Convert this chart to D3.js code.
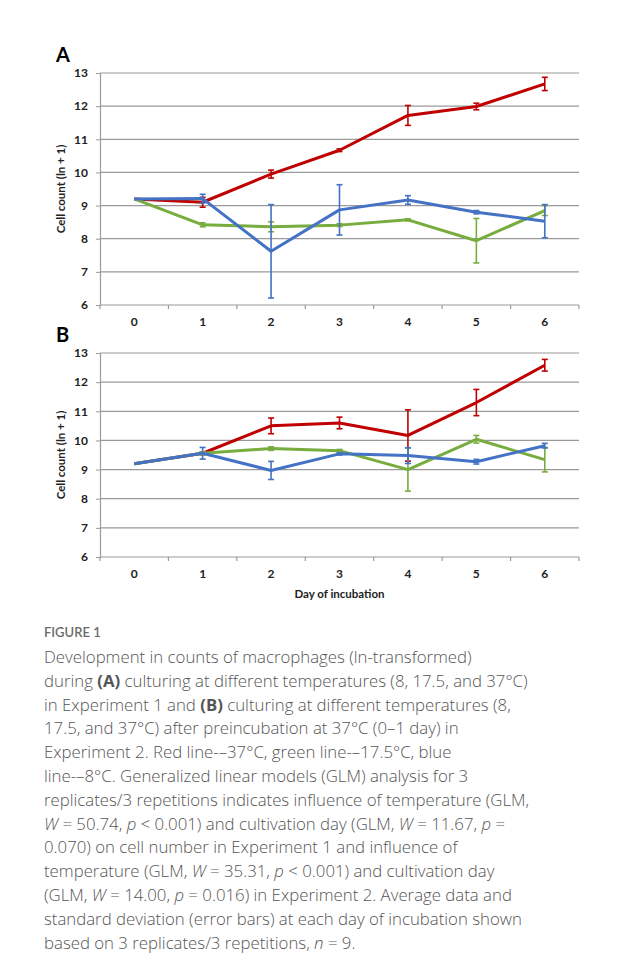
<!DOCTYPE html>
<html>
<head>
<meta charset="utf-8">
<script src="https://cdn.jsdelivr.net/npm/d3@7/dist/d3.min.js"></script>
<style>
  body { margin: 0; background: #fff; }
  svg text { font-family: Lato, "Open Sans", sans-serif; }
  .tick text { font-weight: bold; font-size: 12px; fill: #222; }
  .caption { font-family: "Open Sans", sans-serif; font-size: 16.8px; font-weight: 300; fill: #555; }
</style>
</head>
<body>
<svg id="fig" width="619" height="974"></svg>
<script>
var days = ['0', '1', '2', '3', '4', '5', '6']
  , yTicks = [6, 7, 8, 9, 10, 11, 12, 13]
  , colors = { red: '#c00000', green: '#77ac3f', blue: '#4472c4' }

// Experiment 1 (panel A): means and SD
var aRed = [9.2, 9.1, 9.95, 10.67, 11.72, 11.99, 12.67]
  , aRedErr = [0, 0.15, 0.12, 0.04, 0.3, 0.1, 0.2]
  , aGreen = [9.2, 8.42, 8.36, 8.41, 8.57, 7.94, 8.85]
  , aGreenErr = [0, 0.06, 0.15, 0.04, 0.03, 0.67, 0.15]
  , aBlue = [9.2, 9.21, 7.62, 8.87, 9.17, 8.8, 8.53]
  , aBlueErr = [0, 0.13, 1.41, 0.76, 0.13, 0.05, 0.5]

// Experiment 2 (panel B)
var bRed = [9.2, 9.56, 10.5, 10.6, 10.17, 11.3, 12.58]
  , bRedErr = [0, 0.05, 0.27, 0.2, 0.88, 0.45, 0.2]
  , bGreen = [9.2, 9.56, 9.72, 9.65, 9.0, 10.04, 9.34]
  , bGreenErr = [0, 0.05, 0.06, 0.04, 0.74, 0.13, 0.42]
  , bBlue = [9.2, 9.56, 8.97, 9.54, 9.48, 9.27, 9.82]
  , bBlueErr = [0, 0.2, 0.31, 0.04, 0.27, 0.08, 0.08]

var svg = d3.select('#fig')

var x = d3.scaleBand().domain(days).range([100, 579]).padding(0)

// Draws one panel: grid, axes, three series with error bars
function drawPanel(letter, top, bottom, series, showTitle) {
  var y = d3.scaleLinear().domain([6, 13]).range([bottom, top])
    , g = svg.append('g')

  g.selectAll('line.grid').data(yTicks).enter().append('line')
    .attr('x1', 100).attr('x2', 579)
    .attr('y1', function(d) { return y(d) }).attr('y2', function(d) { return y(d) })
    .attr('stroke', '#9a9a9a').attr('stroke-width', 1.2)

  var yAxis = g.append('g').attr('transform', 'translate(100,0)')
    .call(d3.axisLeft(y).tickValues(yTicks).tickFormat(d3.format('d')).tickSize(4).tickPadding(8))
  yAxis.select('.domain').attr('stroke', '#9a9a9a').attr('stroke-width', 1.2)
  yAxis.selectAll('.tick line').attr('stroke', '#9a9a9a')

  var xAxis = g.append('g').attr('transform', 'translate(0,' + bottom + ')')
    .call(d3.axisBottom(x).tickSize(0).tickPadding(12))
  xAxis.select('.domain').remove()

  // Excel-style ticks on the category boundaries
  var bounds = days.map(function(d) { return x(d) }).concat([x.range()[1]])
  g.selectAll('line.xtick').data(bounds).enter().append('line')
    .attr('x1', function(d) { return d }).attr('x2', function(d) { return d })
    .attr('y1', bottom).attr('y2', bottom + 4)
    .attr('stroke', '#9a9a9a').attr('stroke-width', 1.2)

  g.append('text').attr('x', 56).attr('y', top - 11)
    .attr('font-family', 'Liberation Sans, Arial, sans-serif')
    .attr('font-weight', 'bold').attr('font-size', 20).text(letter)

  g.append('text')
    .attr('transform', 'translate(65,' + ((top + bottom) / 2) + ') rotate(-90)')
    .attr('text-anchor', 'middle').attr('font-weight', 'bold').attr('font-size', 11.5)
    .attr('fill', '#222').text('Cell count (ln + 1)')

  if (showTitle) {
    g.append('text').attr('x', (x.range()[0] + x.range()[1]) / 2).attr('y', bottom + 41)
      .attr('text-anchor', 'middle').attr('font-weight', 'bold').attr('font-size', 11.5)
      .attr('fill', '#222').text('Day of incubation')
  }

  var cx = function(i) { return x(days[i]) + x.bandwidth() / 2 }
  var line = d3.line().x(function(d, i) { return cx(i) }).y(function(d) { return y(d) })

  series.forEach(function(s) {
    var sg = g.append('g')
    sg.append('path').datum(s.values)
      .attr('d', line).attr('fill', 'none')
      .attr('stroke', s.color).attr('stroke-width', 3).attr('stroke-linejoin', 'round')

    var errs = s.values.map(function(v, i) { return { i: i, v: v, e: s.err[i] } })
      .filter(function(d) { return d.e > 0 })
    sg.selectAll('line.err').data(errs).enter().append('line')
      .attr('x1', function(d) { return cx(d.i) }).attr('x2', function(d) { return cx(d.i) })
      .attr('y1', function(d) { return y(d.v - d.e) }).attr('y2', function(d) { return y(d.v + d.e) })
      .attr('stroke', s.color).attr('stroke-width', 1.6)
    ;[-1, 1].forEach(function(sign) {
      sg.selectAll(null).data(errs).enter().append('line')
        .attr('x1', function(d) { return cx(d.i) - 3 }).attr('x2', function(d) { return cx(d.i) + 3 })
        .attr('y1', function(d) { return y(d.v + sign * d.e) })
        .attr('y2', function(d) { return y(d.v + sign * d.e) })
        .attr('stroke', s.color).attr('stroke-width', 1.6)
    })
  })
}

drawPanel('A', 73, 305, [
  { values: aRed, err: aRedErr, color: colors.red },
  { values: aGreen, err: aGreenErr, color: colors.green },
  { values: aBlue, err: aBlueErr, color: colors.blue }
], false)

drawPanel('B', 353, 557, [
  { values: bRed, err: bRedErr, color: colors.red },
  { values: bGreen, err: bGreenErr, color: colors.green },
  { values: bBlue, err: bBlueErr, color: colors.blue }
], true)

// Caption
svg.append('text').attr('x', 44).attr('y', 637)
  .attr('font-family', '"Open Sans", sans-serif').attr('font-size', 13)
  .attr('font-weight', 600).attr('fill', '#6b6b6b').text('FIGURE 1')

var captionLines = [
  [['Development in counts of macrophages (ln-transformed)']],
  [['during '], ['(A)', 'b'], [' culturing at different temperatures (8, 17.5, and 37°C)']],
  [['in Experiment 1 and '], ['(B)', 'b'], [' culturing at different temperatures (8,']],
  [['17.5, and 37°C) after preincubation at 37°C (0–1 day) in']],
  [['Experiment 2. Red line-–37°C, green line-–17.5°C, blue']],
  [['line-–8°C. Generalized linear models (GLM) analysis for 3']],
  [['replicates/3 repetitions indicates influence of temperature (GLM,']],
  [['W', 'i'], [' = 50.74, '], ['p', 'i'], [' < 0.001) and cultivation day (GLM, '], ['W', 'i'], [' = 11.67, '], ['p', 'i'], [' =']],
  [['0.070) on cell number in Experiment 1 and influence of']],
  [['temperature (GLM, '], ['W', 'i'], [' = 35.31, '], ['p', 'i'], [' < 0.001) and cultivation day']],
  [['(GLM, '], ['W', 'i'], [' = 14.00, '], ['p', 'i'], [' = 0.016) in Experiment 2. Average data and']],
  [['standard deviation (error bars) at each day of incubation shown']],
  [['based on 3 replicates/3 repetitions, '], ['n', 'i'], [' = 9.']]
]

var cap = svg.append('g')
captionLines.forEach(function(parts, k) {
  var t = cap.append('text').attr('class', 'caption').attr('x', 44).attr('y', 663 + k * 23.8)
  parts.forEach(function(p) {
    var ts = t.append('tspan').text(p[0])
    if (p[1] === 'b') ts.attr('font-weight', 'bold')
    if (p[1] === 'i') ts.attr('font-style', 'italic')
  })
})
</script>
</body>
</html>
